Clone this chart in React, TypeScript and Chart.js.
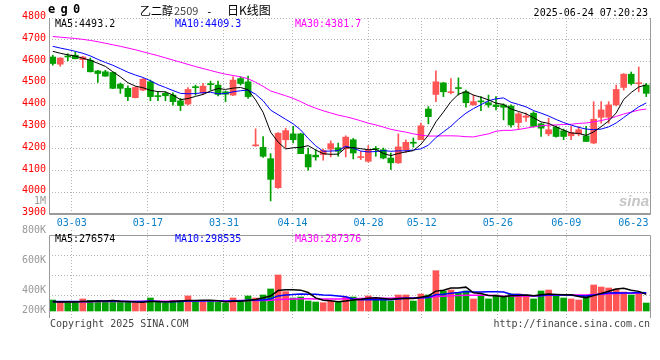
import React, { useEffect, useRef } from 'react';
import { Chart, registerables } from 'chart.js';

Chart.register(...registerables);

// ---------- texts ----------
const symbol = 'eg0';
const contractName = '乙二醇';
const contractCode = '2509';
const chartTitle = '日K线图';
const timestamp = '2025-06-24 07:20:23';
const unitLabel = '1M';
const footerLeft = 'Copyright 2025 SINA.COM';
const footerRight = 'http://finance.sina.com.cn';
const watermark = 'sina';

// ---------- categories ----------
const dates = [
  '02-26', '02-27', '02-28',
  '03-03', '03-04', '03-05', '03-06', '03-07',
  '03-10', '03-11', '03-12', '03-13', '03-14',
  '03-17', '03-18', '03-19', '03-20', '03-21',
  '03-24', '03-25', '03-26', '03-27', '03-28',
  '03-31', '04-01', '04-02', '04-03',
  '04-07', '04-08', '04-09', '04-10', '04-11',
  '04-14', '04-15', '04-16', '04-17', '04-18',
  '04-21', '04-22', '04-23', '04-24', '04-25',
  '04-28', '04-29', '04-30',
  '05-06', '05-07', '05-08', '05-09',
  '05-12', '05-13', '05-14', '05-15', '05-16',
  '05-19', '05-20', '05-21', '05-22', '05-23',
  '05-26', '05-27', '05-28', '05-29', '05-30',
  '06-03', '06-04', '06-05', '06-06',
  '06-09', '06-10', '06-11', '06-12', '06-13',
  '06-16', '06-17', '06-18', '06-19', '06-20',
  '06-23', '06-24',
];
const axisDates = ['03-03', '03-17', '03-31', '04-14', '04-28', '05-12', '05-26', '06-09', '06-23'];
const gridDates = ['03-03', '03-17', '03-31', '04-14', '04-28', '05-12', '05-26', '06-09'];

// ---------- price series ----------
const opens = [
  4621, 4588, 4623, 4629, 4609, 4606, 4557, 4553, 4550, 4496,
  4477, 4434, 4469, 4507, 4441, 4454, 4446, 4420, 4405, 4482,
  4457, 4496, 4492, 4461, 4446, 4522, 4507, 4213, 4206, 4154,
  4021, 4241, 4268, 4268, 4173, 4170, 4173, 4198, 4204, 4200,
  4241, 4159, 4142, 4199, 4195, 4157, 4135, 4195, 4227, 4241,
  4382, 4449, 4502, 4457, 4478, 4461, 4401, 4417, 4411, 4401,
  4401, 4396, 4320, 4344, 4363, 4314, 4268, 4299, 4282, 4259,
  4268, 4259, 4226, 4344, 4344, 4401, 4481, 4542, 4498, 4492,
];
const highs = [
  4629, 4618, 4636, 4644, 4624, 4616, 4560, 4560, 4552, 4502,
  4488, 4484, 4522, 4515, 4461, 4461, 4456, 4431, 4481, 4492,
  4500, 4510, 4510, 4465, 4530, 4530, 4533, 4291, 4256, 4177,
  4274, 4294, 4302, 4271, 4203, 4195, 4198, 4236, 4226, 4259,
  4247, 4188, 4214, 4210, 4203, 4180, 4268, 4241, 4249, 4317,
  4393, 4557, 4505, 4522, 4525, 4469, 4446, 4439, 4446, 4439,
  4406, 4401, 4366, 4363, 4370, 4317, 4340, 4305, 4290, 4302,
  4302, 4302, 4416, 4416, 4416, 4492, 4545, 4552, 4575, 4500,
];
const lows = [
  4583, 4578, 4603, 4612, 4572, 4552, 4504, 4532, 4476, 4454,
  4420, 4433, 4466, 4420, 4420, 4420, 4400, 4375, 4400, 4446,
  4449, 4469, 4442, 4416, 4443, 4492, 4431, 4211, 4160, 3960,
  4018, 4203, 4226, 4177, 4101, 4147, 4147, 4162, 4165, 4162,
  4153, 4150, 4138, 4165, 4153, 4104, 4132, 4183, 4207, 4241,
  4314, 4416, 4439, 4451, 4446, 4390, 4400, 4375, 4390, 4378,
  4332, 4299, 4290, 4325, 4299, 4256, 4259, 4253, 4241, 4241,
  4259, 4233, 4223, 4317, 4317, 4396, 4469, 4492, 4461, 4439,
];
const closes = [
  4591, 4616, 4621, 4613, 4621, 4553, 4545, 4533, 4477, 4477,
  4439, 4481, 4519, 4439, 4439, 4443, 4416, 4398, 4472, 4480,
  4487, 4494, 4449, 4450, 4515, 4499, 4439, 4216, 4165, 4059,
  4271, 4283, 4241, 4177, 4116, 4162, 4192, 4223, 4188, 4253,
  4180, 4161, 4195, 4197, 4157, 4135, 4208, 4229, 4225, 4305,
  4347, 4507, 4461, 4459, 4476, 4411, 4416, 4415, 4401, 4393,
  4390, 4309, 4360, 4350, 4302, 4294, 4287, 4256, 4256, 4274,
  4287, 4233, 4335, 4378, 4401, 4472, 4542, 4499, 4502, 4454,
];
const ma5 = [
  4647, 4638, 4631, 4625, 4615, 4606, 4592, 4578, 4553, 4530,
  4503, 4487, 4480, 4468, 4462, 4461, 4446, 4425, 4430, 4440,
  4449, 4465, 4476, 4472, 4478, 4481, 4470, 4424, 4367, 4276,
  4230, 4199, 4204, 4206, 4214, 4194, 4177, 4174, 4175, 4204,
  4205, 4200, 4195, 4197, 4178, 4168, 4178, 4185, 4191, 4220,
  4262, 4323, 4368, 4416, 4450, 4462, 4446, 4436, 4424, 4409,
  4403, 4382, 4371, 4360, 4342, 4323, 4316, 4300, 4285, 4272,
  4270, 4261, 4277, 4301, 4327, 4364, 4426, 4458, 4483, 4493,
];
const ma10 = [
  4670, 4662, 4655, 4647, 4638, 4626, 4610, 4596, 4583, 4567,
  4551, 4538, 4527, 4512, 4494, 4481, 4467, 4454, 4452, 4453,
  4457, 4459, 4452, 4453, 4461, 4466, 4469, 4450, 4420, 4377,
  4356, 4335, 4314, 4286, 4247, 4213, 4188, 4189, 4191, 4211,
  4202, 4189, 4185, 4187, 4191, 4188, 4190, 4190, 4194, 4199,
  4216, 4251, 4277, 4303, 4335, 4363, 4384, 4402, 4420, 4429,
  4433, 4413, 4403, 4392, 4375, 4363, 4350, 4334, 4320, 4308,
  4298, 4290, 4287, 4290, 4300, 4318, 4343, 4368, 4392, 4410,
];
const ma30 = [
  4715, 4712, 4709, 4706, 4702, 4697, 4691, 4684, 4677, 4670,
  4662, 4654, 4645, 4636, 4627, 4617, 4607, 4597, 4587, 4577,
  4568, 4559, 4550, 4542, 4536, 4530, 4521, 4505, 4486, 4465,
  4454, 4443, 4431, 4416, 4399, 4386, 4374, 4364, 4354, 4347,
  4338, 4328, 4317, 4309, 4299, 4289, 4282, 4276, 4268, 4262,
  4258, 4258, 4259, 4259, 4258, 4255, 4254, 4261, 4268, 4280,
  4284, 4284, 4288, 4294, 4300, 4305, 4308, 4309, 4311, 4312,
  4316, 4318, 4323, 4329, 4337, 4348, 4359, 4368, 4377, 4382,
];
const priceMaLatest = ['4493.2', '4409.3', '4381.7'];
const priceMin = 3900;
const priceMax = 4800;
const priceStep = 100;

// ---------- volume series (lots) ----------
const volumes = [
  179000, 142000, 125000, 135000, 196000, 174000, 174000, 142000, 163000, 142000,
  158000, 130000, 125000, 212000, 142000, 125000, 174000, 174000, 245000, 142000,
  142000, 174000, 142000, 125000, 212000, 142000, 245000, 212000, 261000, 359000,
  587000, 315000, 212000, 228000, 163000, 147000, 135000, 158000, 142000, 228000,
  228000, 196000, 245000, 174000, 174000, 163000, 261000, 261000, 163000, 277000,
  261000, 657000, 326000, 342000, 293000, 326000, 196000, 261000, 196000, 261000,
  245000, 277000, 277000, 245000, 196000, 326000, 342000, 245000, 212000, 196000,
  179000, 245000, 424000, 391000, 375000, 359000, 310000, 261000, 293000, 130000,
];
const volMa5 = [
  150000, 148000, 150000, 148000, 155000, 154000, 161000, 164000, 170000, 159000,
  156000, 147000, 144000, 153000, 153000, 147000, 156000, 165000, 172000, 172000,
  175000, 175000, 169000, 145000, 159000, 159000, 173000, 187000, 214000, 244000,
  333000, 347000, 347000, 340000, 301000, 213000, 177000, 166000, 149000, 162000,
  178000, 190000, 208000, 214000, 203000, 190000, 203000, 207000, 204000, 225000,
  245000, 324000, 337000, 373000, 376000, 389000, 297000, 284000, 254000, 248000,
  232000, 248000, 251000, 261000, 248000, 264000, 277000, 271000, 264000, 264000,
  235000, 215000, 251000, 287000, 323000, 359000, 372000, 339000, 320000, 271000,
];
const volMa10 = [
  155000, 155000, 154000, 153000, 154000, 156000, 157000, 157000, 157000, 157000,
  155000, 154000, 154000, 162000, 156000, 151000, 151000, 155000, 163000, 163000,
  161000, 166000, 167000, 159000, 166000, 167000, 174000, 178000, 180000, 201000,
  246000, 260000, 267000, 277000, 272000, 273000, 262000, 257000, 245000, 232000,
  196000, 184000, 187000, 182000, 183000, 184000, 197000, 207000, 209000, 214000,
  218000, 264000, 272000, 289000, 300000, 317000, 310000, 310000, 314000, 312000,
  310000, 272000, 267000, 258000, 248000, 248000, 263000, 261000, 263000, 256000,
  250000, 246000, 261000, 276000, 294000, 297000, 294000, 295000, 303000, 297000,
];
const volMa30 = [
  150000, 150000, 151000, 151000, 152000, 152000, 153000, 153000, 154000, 155000,
  155000, 156000, 157000, 158000, 159000, 160000, 161000, 162000, 164000, 165000,
  166000, 167000, 168000, 168000, 169000, 170000, 171000, 172000, 173000, 174000,
  187000, 193000, 196000, 199000, 198000, 197000, 196000, 196000, 196000, 199000,
  201000, 203000, 207000, 206000, 207000, 208000, 211000, 214000, 211000, 216000,
  220000, 236000, 242000, 249000, 252000, 258000, 256000, 258000, 256000, 253000,
  241000, 240000, 242000, 243000, 244000, 250000, 257000, 259000, 262000, 261000,
  259000, 261000, 267000, 274000, 281000, 287000, 289000, 289000, 293000, 288000,
];
const volMaLatest = ['276574', '298535', '287376'];
const volumeAxisLabels = ['800K', '600K', '400K', '200K'];

// ---------- styles ----------
const RED = '#ff5555';
const GREEN = '#00a000';
const MA_COLORS = ['#000000', '#0000ff', '#ff00ff'];
const GRID = '#b4b4b4';
const FRAME = '#9a9a9a';
const DATE_BLUE = '#0a7fc8';
const MONO = '"DejaVu Sans Mono", "Liberation Mono", monospace';
const CJK = '"Noto Sans CJK SC", "Noto Sans", sans-serif';

// volume panel geometry (pixel units of the label/grid axis)
const VOL_PER_PX = 16300;
const volLabelPos = [81, 51, 21, 1];
const volGridPos = [56, 36, 16];

const candleColors = closes.map((c, i) => (c > opens[i] ? RED : GREEN));

const xGridColor = (ctx: any) => (gridDates.includes(dates[ctx.index]) ? GRID : 'transparent');

const mainDecor = {
  id: 'mainDecor',
  beforeDatasetsDraw(chart: any) {
    const { ctx, chartArea: a } = chart;
    ctx.save();
    ctx.font = 'italic bold 15px "Liberation Sans", sans-serif';
    ctx.fillStyle = '#c6c6c6';
    ctx.textAlign = 'right';
    ctx.textBaseline = 'alphabetic';
    ctx.fillText(watermark, a.right - 1, a.bottom - 8);
    ctx.restore();
  },
  afterDraw(chart: any) {
    const { ctx, chartArea: a } = chart;
    ctx.save();
    ctx.strokeStyle = FRAME;
    ctx.lineWidth = 1;
    ctx.beginPath();
    ctx.moveTo(a.left + 0.5, a.top);
    ctx.lineTo(a.left + 0.5, a.bottom + 0.5);
    ctx.lineTo(a.right + 0.5, a.bottom + 0.5);
    ctx.lineTo(a.right + 0.5, a.top);
    ctx.stroke();
    ctx.beginPath();
    ctx.moveTo(a.left, a.bottom - 0.5);
    ctx.lineTo(a.right + 1, a.bottom - 0.5);
    ctx.stroke();

    ctx.textBaseline = 'alphabetic';
    ctx.textAlign = 'left';
    ctx.fillStyle = '#000';
    ctx.font = `bold 12px ${MONO}`;
    symbol.split('').forEach((ch, k) => ctx.fillText(ch, 48 + k * 12.5, 13));

    ctx.font = `11px ${CJK}`;
    ctx.fillText(contractName, 140, 15);
    let x = 140 + ctx.measureText(contractName).width + 1;
    ctx.fillStyle = '#444';
    ctx.fillText(contractCode, x, 15);
    ctx.fillStyle = '#000';
    ctx.font = `11px ${MONO}`;
    ctx.fillText('-', 206, 15);
    ctx.font = `12px ${CJK}`;
    ctx.fillText(chartTitle, 227, 15);

    ctx.font = `10px ${MONO}`;
    ctx.textAlign = 'right';
    ctx.fillText(timestamp, 648, 16);

    ctx.textAlign = 'left';
    const names = ['MA5:', 'MA10:', 'MA30:'];
    const xs = [55, 175, 295];
    names.forEach((n, k) => {
      ctx.fillStyle = MA_COLORS[k];
      ctx.fillText(n + priceMaLatest[k], xs[k], 27);
    });

    ctx.fillStyle = '#999';
    ctx.textAlign = 'right';
    ctx.fillText(unitLabel, 46, 204);
    ctx.restore();
  },
};

const volDecor = {
  id: 'volDecor',
  afterDraw(chart: any) {
    const { ctx, chartArea: a } = chart;
    const yl = chart.scales.yl;
    const topY = Math.round(yl.getPixelForValue(76)) + 0.5;
    ctx.save();
    ctx.strokeStyle = FRAME;
    ctx.lineWidth = 1;
    ctx.beginPath();
    ctx.moveTo(a.left + 0.5, a.bottom);
    ctx.lineTo(a.left + 0.5, topY);
    ctx.lineTo(a.right + 0.5, topY);
    ctx.lineTo(a.right + 0.5, a.bottom);
    ctx.stroke();

    ctx.font = `10px ${MONO}`;
    ctx.textBaseline = 'alphabetic';
    ctx.textAlign = 'left';
    const names = ['MA5:', 'MA10:', 'MA30:'];
    const xs = [55, 175, 295];
    names.forEach((n, k) => {
      ctx.fillStyle = MA_COLORS[k];
      ctx.fillText(n + volMaLatest[k], xs[k], 242);
    });
    ctx.fillStyle = '#444';
    ctx.fillText(footerLeft, 50, 327);
    ctx.textAlign = 'right';
    ctx.fillText(footerRight, 650, 327);
    ctx.restore();
  },
};

const lineDs = (label: string, data: number[], color: string, yAxisID: string, width: number) => ({
  type: 'line' as const,
  label,
  data,
  borderColor: color,
  borderWidth: width,
  pointRadius: 0,
  tension: 0,
  fill: false,
  order: 0,
  xAxisID: 'x',
  yAxisID,
});

export default function App() {
  const refA = useRef<HTMLCanvasElement>(null);
  const refB = useRef<HTMLCanvasElement>(null);

  useEffect(() => {
    const main = new Chart(refA.current as HTMLCanvasElement, {
      type: 'bar',
      data: {
        labels: dates,
        datasets: [
          lineDs('MA5', ma5, MA_COLORS[0], 'y', 1),
          lineDs('MA10', ma10, MA_COLORS[1], 'y', 1),
          lineDs('MA30', ma30, MA_COLORS[2], 'y', 1),
          {
            type: 'bar',
            label: 'body',
            data: opens.map((o, i) => [Math.min(o, closes[i]), Math.max(o, closes[i])]),
            backgroundColor: candleColors,
            barThickness: 6,
            grouped: false,
            minBarLength: 1,
            order: 1,
            xAxisID: 'x',
            yAxisID: 'y',
          } as any,
          {
            type: 'bar',
            label: 'wick',
            data: lows.map((l, i) => [l, highs[i]]),
            backgroundColor: candleColors,
            barThickness: 1,
            grouped: false,
            order: 2,
            xAxisID: 'x',
            yAxisID: 'y',
          } as any,
        ],
      },
      options: {
        responsive: false,
        animation: false,
        events: [],
        layout: { padding: { top: 18, right: 10, bottom: 131, left: 0 } },
        plugins: { legend: { display: false }, tooltip: { enabled: false } },
        scales: {
          x: { type: 'category', display: false, offset: true },
          xg: {
            type: 'category',
            position: 'bottom',
            offset: false,
            grid: { offset: false, color: xGridColor, drawTicks: false, lineWidth: 1 },
            border: { display: false, dash: [1, 2] },
            ticks: {
              autoSkip: false,
              maxRotation: 0,
              minRotation: 0,
              padding: 3,
              color: DATE_BLUE,
              font: { family: MONO, size: 10 },
              callback: (v: any) => {
                const d = dates[v as number];
                if (!axisDates.includes(d)) return '';
                return d === axisDates[axisDates.length - 1] ? d + '   ' : d;
              },
            },
            afterFit: (s: any) => {
              s.height = 15;
            },
          },
          y: {
            type: 'linear',
            position: 'left',
            min: priceMin,
            max: priceMax,
            beginAtZero: false,
            grid: { color: GRID, drawTicks: false, lineWidth: 1 },
            border: { display: false, dash: [1, 2] },
            ticks: {
              stepSize: priceStep,
              autoSkip: false,
              padding: 3,
              labelOffset: -1.5,
              color: '#ff0000',
              font: { family: MONO, size: 10 },
              callback: (v: any) => String(v),
            },
            afterFit: (s: any) => {
              s.width = 49;
            },
          },
        } as any,
      },
      plugins: [mainDecor],
    });

    const vol = new Chart(refB.current as HTMLCanvasElement, {
      type: 'bar',
      data: {
        labels: dates,
        datasets: [
          lineDs('VMA5', volMa5, MA_COLORS[0], 'yv', 1.5),
          lineDs('VMA10', volMa10, MA_COLORS[1], 'yv', 1.5),
          lineDs('VMA30', volMa30, MA_COLORS[2], 'yv', 1.5),
          {
            type: 'bar',
            label: 'volume',
            data: volumes,
            backgroundColor: candleColors,
            barThickness: 6,
            grouped: false,
            order: 1,
            xAxisID: 'x',
            yAxisID: 'yv',
          } as any,
        ],
      },
      options: {
        responsive: false,
        animation: false,
        events: [],
        layout: { padding: { top: 230, right: 10, bottom: 42, left: 0 } },
        plugins: { legend: { display: false }, tooltip: { enabled: false } },
        scales: {
          x: { type: 'category', display: false, offset: true },
          xg: {
            type: 'category',
            position: 'bottom',
            offset: false,
            grid: { offset: false, color: xGridColor, drawTicks: false, lineWidth: 1 },
            border: { display: false, dash: [1, 2] },
            ticks: { display: false, autoSkip: false, maxRotation: 0 },
            afterFit: (s: any) => {
              s.height = 0;
            },
          },
          yv: {
            type: 'linear',
            display: false,
            min: -7 * VOL_PER_PX,
            max: 81 * VOL_PER_PX,
            beginAtZero: false,
          },
          yl: {
            type: 'linear',
            position: 'left',
            min: -7,
            max: 81,
            beginAtZero: false,
            afterBuildTicks: (s: any) => {
              s.ticks = [...volLabelPos, ...volGridPos, 76].sort((p, q) => p - q).map((v) => ({ value: v }));
            },
            grid: {
              color: (ctx: any) => (ctx.tick && volGridPos.includes(ctx.tick.value) ? GRID : 'transparent'),
              drawTicks: false,
              lineWidth: 1,
            },
            border: { display: false, dash: [1, 2] },
            ticks: {
              autoSkip: false,
              padding: 3,
              color: '#999',
              font: { family: MONO, size: 10 },
              callback: (v: any) => {
                const k = volLabelPos.indexOf(v as number);
                return k >= 0 ? volumeAxisLabels[k] : '';
              },
            },
            afterFit: (s: any) => {
              s.width = 49;
            },
          },
        } as any,
      },
      plugins: [volDecor],
    });

    return () => {
      main.destroy();
      vol.destroy();
    };
  }, []);

  return (
    <div style={{ position: 'absolute', left: 0, top: 0, width: 660, height: 360, background: '#fff', overflow: 'hidden' }}>
      <canvas ref={refA} width={660} height={360} style={{ position: 'absolute', left: 0, top: 0 }} />
      <canvas ref={refB} width={660} height={360} style={{ position: 'absolute', left: 0, top: 0 }} />
    </div>
  );
}
